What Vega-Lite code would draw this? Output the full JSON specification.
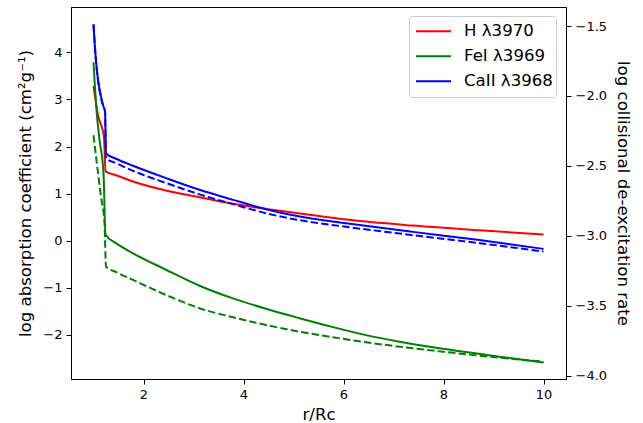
{
  "$schema": "https://vega.github.io/schema/vega-lite/v6.json",
  "width": 495,
  "height": 372,
  "autosize": {"type": "none"},
  "padding": {"left": 71, "top": 7, "right": 77, "bottom": 44},
  "background": "white",
  "config": {
    "view": {"stroke": "black", "strokeWidth": 1},
    "font": "DejaVu Sans",
    "axis": {
      "domainColor": "black", "tickColor": "black", "labelColor": "black", "titleColor": "black",
      "grid": false, "tickSize": 5, "labelFontSize": 13, "titleFontSize": 16.6, "titleFontWeight": "normal",
      "labelFont": "DejaVu Sans", "titleFont": "DejaVu Sans", "labelPadding": 4
    }
  },
  "data": {"values": [
    {"r": 1, "val": 3.29, "series": "H λ3970", "style": "solid"},
    {"r": 1.09, "val": 2.67, "series": "H λ3970", "style": "solid"},
    {"r": 1.21, "val": 2.19, "series": "H λ3970", "style": "solid"},
    {"r": 1.24, "val": 1.47, "series": "H λ3970", "style": "solid"},
    {"r": 1.45, "val": 1.39, "series": "H λ3970", "style": "solid"},
    {"r": 1.79, "val": 1.255, "series": "H λ3970", "style": "solid"},
    {"r": 2.45, "val": 1.064, "series": "H λ3970", "style": "solid"},
    {"r": 3.12, "val": 0.923, "series": "H λ3970", "style": "solid"},
    {"r": 3.79, "val": 0.781, "series": "H λ3970", "style": "solid"},
    {"r": 4.45, "val": 0.674, "series": "H λ3970", "style": "solid"},
    {"r": 5.12, "val": 0.578, "series": "H λ3970", "style": "solid"},
    {"r": 6.05, "val": 0.447, "series": "H λ3970", "style": "solid"},
    {"r": 7.39, "val": 0.319, "series": "H λ3970", "style": "solid"},
    {"r": 8.72, "val": 0.219, "series": "H λ3970", "style": "solid"},
    {"r": 10, "val": 0.128, "series": "H λ3970", "style": "solid"},

    {"r": 1, "val": 3.79, "series": "FeI λ3969", "style": "solid"},
    {"r": 1.06, "val": 2.78, "series": "FeI λ3969", "style": "solid"},
    {"r": 1.12, "val": 2.14, "series": "FeI λ3969", "style": "solid"},
    {"r": 1.2, "val": 1.44, "series": "FeI λ3969", "style": "solid"},
    {"r": 1.24, "val": 0.13, "series": "FeI λ3969", "style": "solid"},
    {"r": 1.45, "val": -0.055, "series": "FeI λ3969", "style": "solid"},
    {"r": 1.79, "val": -0.27, "series": "FeI λ3969", "style": "solid"},
    {"r": 2.45, "val": -0.62, "series": "FeI λ3969", "style": "solid"},
    {"r": 3.12, "val": -0.96, "series": "FeI λ3969", "style": "solid"},
    {"r": 3.79, "val": -1.23, "series": "FeI λ3969", "style": "solid"},
    {"r": 4.45, "val": -1.45, "series": "FeI λ3969", "style": "solid"},
    {"r": 5.12, "val": -1.65, "series": "FeI λ3969", "style": "solid"},
    {"r": 5.79, "val": -1.84, "series": "FeI λ3969", "style": "solid"},
    {"r": 6.45, "val": -2.01, "series": "FeI λ3969", "style": "solid"},
    {"r": 7.12, "val": -2.15, "series": "FeI λ3969", "style": "solid"},
    {"r": 7.79, "val": -2.27, "series": "FeI λ3969", "style": "solid"},
    {"r": 8.45, "val": -2.37, "series": "FeI λ3969", "style": "solid"},
    {"r": 9.12, "val": -2.47, "series": "FeI λ3969", "style": "solid"},
    {"r": 10, "val": -2.59, "series": "FeI λ3969", "style": "solid"},

    {"r": 1, "val": 4.6, "series": "CaII λ3968", "style": "solid"},
    {"r": 1.04, "val": 3.95, "series": "CaII λ3968", "style": "solid"},
    {"r": 1.09, "val": 3.42, "series": "CaII λ3968", "style": "solid"},
    {"r": 1.15, "val": 3.06, "series": "CaII λ3968", "style": "solid"},
    {"r": 1.21, "val": 2.82, "series": "CaII λ3968", "style": "solid"},
    {"r": 1.23, "val": 2.78, "series": "CaII λ3968", "style": "solid"},
    {"r": 1.25, "val": 1.85, "series": "CaII λ3968", "style": "solid"},
    {"r": 1.45, "val": 1.74, "series": "CaII λ3968", "style": "solid"},
    {"r": 1.79, "val": 1.59, "series": "CaII λ3968", "style": "solid"},
    {"r": 2.45, "val": 1.328, "series": "CaII λ3968", "style": "solid"},
    {"r": 3.12, "val": 1.079, "series": "CaII λ3968", "style": "solid"},
    {"r": 3.79, "val": 0.866, "series": "CaII λ3968", "style": "solid"},
    {"r": 4.45, "val": 0.668, "series": "CaII λ3968", "style": "solid"},
    {"r": 5.12, "val": 0.51, "series": "CaII λ3968", "style": "solid"},
    {"r": 6.05, "val": 0.37, "series": "CaII λ3968", "style": "solid"},
    {"r": 7.39, "val": 0.185, "series": "CaII λ3968", "style": "solid"},
    {"r": 8.72, "val": 0.01, "series": "CaII λ3968", "style": "solid"},
    {"r": 10, "val": -0.177, "series": "CaII λ3968", "style": "solid"},

    {"r": 1, "val": -1.49, "series": "CaII λ3968", "style": "dashed"},
    {"r": 1.04, "val": -1.71, "series": "CaII λ3968", "style": "dashed"},
    {"r": 1.09, "val": -1.89, "series": "CaII λ3968", "style": "dashed"},
    {"r": 1.15, "val": -2.01, "series": "CaII λ3968", "style": "dashed"},
    {"r": 1.21, "val": -2.09, "series": "CaII λ3968", "style": "dashed"},
    {"r": 1.23, "val": -2.11, "series": "CaII λ3968", "style": "dashed"},
    {"r": 1.25, "val": -2.445, "series": "CaII λ3968", "style": "dashed"},
    {"r": 1.45, "val": -2.48, "series": "CaII λ3968", "style": "dashed"},
    {"r": 1.79, "val": -2.535, "series": "CaII λ3968", "style": "dashed"},
    {"r": 2.45, "val": -2.622, "series": "CaII λ3968", "style": "dashed"},
    {"r": 3.12, "val": -2.703, "series": "CaII λ3968", "style": "dashed"},
    {"r": 3.79, "val": -2.773, "series": "CaII λ3968", "style": "dashed"},
    {"r": 4.45, "val": -2.838, "series": "CaII λ3968", "style": "dashed"},
    {"r": 5.12, "val": -2.888, "series": "CaII λ3968", "style": "dashed"},
    {"r": 6.05, "val": -2.935, "series": "CaII λ3968", "style": "dashed"},
    {"r": 7.39, "val": -2.995, "series": "CaII λ3968", "style": "dashed"},
    {"r": 8.72, "val": -3.052, "series": "CaII λ3968", "style": "dashed"},
    {"r": 10, "val": -3.112, "series": "CaII λ3968", "style": "dashed"},

    {"r": 1, "val": -2.28, "series": "FeI λ3969", "style": "dashed"},
    {"r": 1.07, "val": -2.49, "series": "FeI λ3969", "style": "dashed"},
    {"r": 1.15, "val": -2.72, "series": "FeI λ3969", "style": "dashed"},
    {"r": 1.22, "val": -2.91, "series": "FeI λ3969", "style": "dashed"},
    {"r": 1.25, "val": -3.22, "series": "FeI λ3969", "style": "dashed"},
    {"r": 1.45, "val": -3.258, "series": "FeI λ3969", "style": "dashed"},
    {"r": 1.79, "val": -3.315, "series": "FeI λ3969", "style": "dashed"},
    {"r": 2.45, "val": -3.422, "series": "FeI λ3969", "style": "dashed"},
    {"r": 3.12, "val": -3.517, "series": "FeI λ3969", "style": "dashed"},
    {"r": 3.79, "val": -3.582, "series": "FeI λ3969", "style": "dashed"},
    {"r": 4.45, "val": -3.637, "series": "FeI λ3969", "style": "dashed"},
    {"r": 5.12, "val": -3.685, "series": "FeI λ3969", "style": "dashed"},
    {"r": 5.79, "val": -3.725, "series": "FeI λ3969", "style": "dashed"},
    {"r": 6.45, "val": -3.76, "series": "FeI λ3969", "style": "dashed"},
    {"r": 7.12, "val": -3.792, "series": "FeI λ3969", "style": "dashed"},
    {"r": 7.79, "val": -3.82, "series": "FeI λ3969", "style": "dashed"},
    {"r": 8.45, "val": -3.846, "series": "FeI λ3969", "style": "dashed"},
    {"r": 9.12, "val": -3.871, "series": "FeI λ3969", "style": "dashed"},
    {"r": 10, "val": -3.899, "series": "FeI λ3969", "style": "dashed"}
  ]},
  "encoding": {
    "x": {"field": "r", "type": "quantitative",
      "scale": {"domain": [0.55, 10.45], "nice": false, "zero": false},
      "axis": {"values": [2, 4, 6, 8, 10], "title": "r/Rc", "titlePadding": 5}}
  },
  "layer": [
    {
      "transform": [{"filter": "datum.style === 'solid'"}],
      "mark": {"type": "line", "strokeWidth": 2, "interpolate": "monotone", "clip": true},
      "encoding": {
        "y": {"field": "val", "type": "quantitative",
          "scale": {"domain": [-2.943, 4.966], "nice": false, "zero": false},
          "axis": {"orient": "left", "values": [-2, -1, 0, 1, 2, 3, 4], "title": "log absorption coefficient (cm²g⁻¹)", "titlePadding": 9}},
        "color": {"field": "series", "type": "nominal",
          "scale": {"domain": ["H λ3970", "FeI λ3969", "CaII λ3968"], "range": ["#ff0000", "#008000", "#0000ff"]},
          "legend": {"title": null, "orient": "none", "legendX": 338, "legendY": 9,
            "symbolType": "stroke", "symbolSize": 1225, "symbolStrokeWidth": 2, "symbolOffset": 3,
            "labelFontSize": 16.6, "labelFont": "DejaVu Sans", "labelColor": "black",
            "clipHeight": 24.5, "rowPadding": 0, "padding": 3, "strokeColor": "#cccccc", "fillColor": "white", "cornerRadius": 3,
            "labelOffset": 12}}
      }
    },
    {
      "transform": [{"filter": "datum.style === 'dashed'"}],
      "mark": {"type": "line", "strokeWidth": 2, "strokeDash": [7.4, 3.2], "interpolate": "monotone", "clip": true},
      "encoding": {
        "y": {"field": "val", "type": "quantitative",
          "scale": {"domain": [-4.023, -1.364], "nice": false, "zero": false},
          "axis": {"orient": "right", "values": [-4, -3.5, -3, -2.5, -2, -1.5], "format": ".1f", "title": "log collisional de-excitation rate", "titlePadding": 8}},
        "color": {"field": "series", "type": "nominal", "legend": null}
      }
    }
  ],
  "resolve": {"scale": {"y": "independent"}}
}
